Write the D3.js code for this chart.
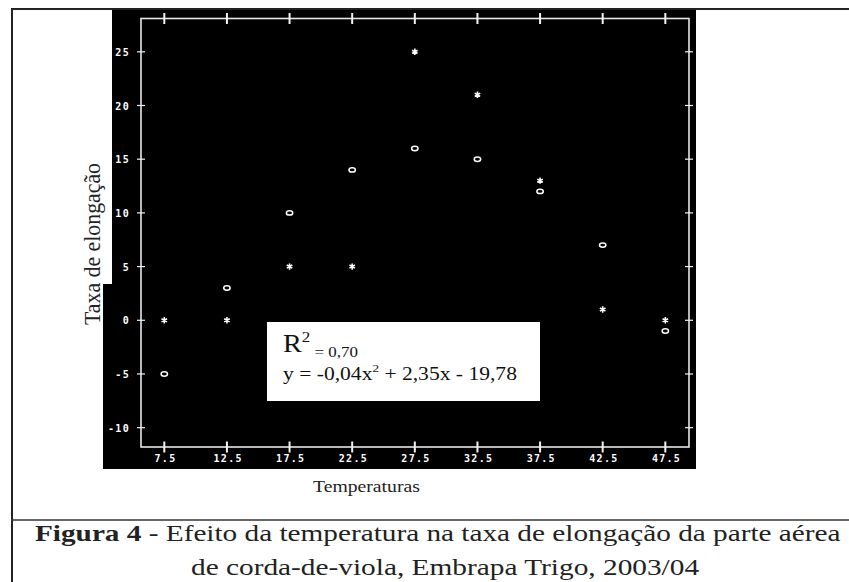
<!DOCTYPE html>
<html><head><meta charset="utf-8">
<script src="https://cdn.jsdelivr.net/npm/d3@7"></script>
<style>html,body{margin:0;padding:0;background:#fff;}svg{display:block;}</style>
</head><body>
<script>
const temperatures = [7.5, 12.5, 17.5, 22.5, 27.5, 32.5, 37.5, 42.5, 47.5];
const starValues   = [0, 0, 5, 5, 25, 21, 13, 1, 0];
const circleValues = [-5, 3, 10, 14, 16, 15, 12, 7, -1];
const yTicks = [-10, -5, 0, 5, 10, 15, 20, 25];
const xTickLabels = ["7.5","12.5","17.5","22.5","27.5","32.5","37.5","42.5","47.5"];
const xTitle = "Temperaturas";
const yTitle = "Taxa de elongação";
const captionBold = "Figura 4";
const captionLine1 = " - Efeito da temperatura na taxa de elongação da parte aérea";
const captionLine2 = "de corda-de-viola, Embrapa Trigo, 2003/04";

const W = 849, H = 582;
const svg = d3.select("body").append("svg").attr("width", W).attr("height", H);

svg.append("rect").attr("width", W).attr("height", H).attr("fill", "#fff");

// black plot panel
svg.append("rect").attr("x", 103).attr("y", 10).attr("width", 593).attr("height", 459).attr("fill", "#000");
// white box for y title
svg.append("rect").attr("x", 12).attr("y", 10).attr("width", 100).attr("height", 274).attr("fill", "#fff");

// outer frame
svg.append("line").attr("x1", 11).attr("x2", W).attr("y1", 9).attr("y2", 9).attr("stroke", "#222").attr("stroke-width", 2);
svg.append("line").attr("x1", 12).attr("x2", 12).attr("y1", 8).attr("y2", H).attr("stroke", "#222").attr("stroke-width", 2);
svg.append("line").attr("x1", 11).attr("x2", W).attr("y1", 520).attr("y2", 520).attr("stroke", "#333").attr("stroke-width", 1.6);

const x = d3.scaleLinear().domain([5.64, 49.39]).range([141, 689]);
const y = d3.scaleLinear().domain([-11.8, 28.1]).range([447, 18.5]);

const axisColor = "#e6e6e6";
// axes frame
svg.append("rect").attr("x", x.range()[0]).attr("y", y.range()[1])
  .attr("width", x.range()[1] - x.range()[0]).attr("height", y.range()[0] - y.range()[1])
  .attr("fill", "none").attr("stroke", axisColor).attr("stroke-width", 1.6);

const tickFont = "'DejaVu Sans Mono', monospace";

// bottom axis labels via d3 axis
const xAxis = d3.axisBottom(x).tickValues(temperatures).tickSize(0).tickPadding(0)
  .tickFormat((d, i) => xTickLabels[i]);
const gx = svg.append("g").attr("transform", `translate(0,${y.range()[0]})`).call(xAxis);
gx.select(".domain").remove();
gx.selectAll("text").attr("fill", "#fff").attr("font-family", tickFont).attr("font-weight", "bold")
  .attr("font-size", 10).attr("letter-spacing", 1.3).attr("dy", null).attr("y", 15).attr("dx", 0.7);

const yAxis = d3.axisLeft(y).tickValues(yTicks).tickSize(0).tickPadding(0).tickFormat(d => String(d));
const gy = svg.append("g").attr("transform", `translate(${x.range()[0] - 11},0)`).call(yAxis);
gy.select(".domain").remove();
gy.selectAll("text").attr("fill", "#fff").attr("font-family", tickFont).attr("font-weight", "bold")
  .attr("font-size", 10).attr("letter-spacing", 1.3).attr("dy", "0.36em");

// crossing tick marks
const tickG = svg.append("g").attr("stroke", "#f2f2f2");
[y.range()[1], y.range()[0]].forEach(yy => {
  tickG.selectAll(null).data(temperatures).enter().append("line")
    .attr("x1", d => x(d)).attr("x2", d => x(d))
    .attr("y1", yy - 5.5).attr("y2", yy + 5.5).attr("stroke-width", 2);
});
[x.range()[0], x.range()[1]].forEach(xx => {
  tickG.selectAll(null).data(yTicks).enter().append("line")
    .attr("x1", xx - 4).attr("x2", xx + 4)
    .attr("y1", d => y(d)).attr("y2", d => y(d)).attr("stroke-width", 1.2);
});

// markers
const asterisk = d3.symbol().type(d3.symbolAsterisk).size(28);
svg.append("g").selectAll("path").data(temperatures).enter().append("path")
  .attr("d", asterisk)
  .attr("transform", (d, i) => `translate(${x(d)},${y(starValues[i])})`)
  .attr("fill", "none").attr("stroke", "#fff").attr("stroke-width", 1.6);
svg.append("g").selectAll("ellipse").data(temperatures).enter().append("ellipse")
  .attr("cx", d => x(d)).attr("cy", (d, i) => y(circleValues[i]))
  .attr("rx", 3.2).attr("ry", 2.2)
  .attr("fill", "none").attr("stroke", "#fff").attr("stroke-width", 1.5);

// equation box
svg.append("rect").attr("x", 267).attr("y", 322).attr("width", 273).attr("height", 79).attr("fill", "#fff");

const serif = "'Liberation Serif', 'Times New Roman', Times, serif";

function fitText(sel, x0, baseline, width) {
  const bb = sel.node().getBBox();
  const sx = width / bb.width;
  sel.attr("transform", `translate(${x0 - bb.x * sx},${baseline}) scale(${sx},1)`);
}

const eq1 = svg.append("text").attr("font-family", serif).attr("fill", "#111");
eq1.append("tspan").attr("font-size", 25).text("R");
eq1.append("tspan").attr("font-size", 15).attr("dy", -10).text("2");
eq1.append("tspan").attr("font-size", 15).attr("dy", 15).text(" = 0,70");
fitText(eq1, 283, 352, 75);

const eq2 = svg.append("text").attr("font-family", serif).attr("fill", "#111").attr("font-size", 18);
eq2.append("tspan").text("y = -0,04x");
eq2.append("tspan").attr("font-size", 11).attr("dy", -8).text("2");
eq2.append("tspan").attr("dy", 8).text(" + 2,35x - 19,78");
fitText(eq2, 283, 380, 234);

// axis titles
const xt = svg.append("text").attr("font-family", serif).attr("font-size", 16).attr("fill", "#222").text(xTitle);
fitText(xt, 313, 491.5, 107);

const yt = svg.append("text").attr("font-family", serif).attr("font-size", 20).attr("fill", "#222")
  .attr("text-anchor", "middle").text(yTitle);
const ylen = yt.node().getComputedTextLength();
yt.attr("transform", `translate(100,244) scale(1.15,1) rotate(-90) scale(${162 / ylen},1)`);

// caption
const c1 = svg.append("text").attr("font-family", serif).attr("font-size", 24).attr("fill", "#222");
c1.append("tspan").attr("font-weight", "bold").text(captionBold);
c1.append("tspan").text(captionLine1);
fitText(c1, 35, 541, 806);

const c2 = svg.append("text").attr("font-family", serif).attr("font-size", 23).attr("fill", "#222").text(captionLine2);
fitText(c2, 191, 575, 509);
</script>
</body></html>
